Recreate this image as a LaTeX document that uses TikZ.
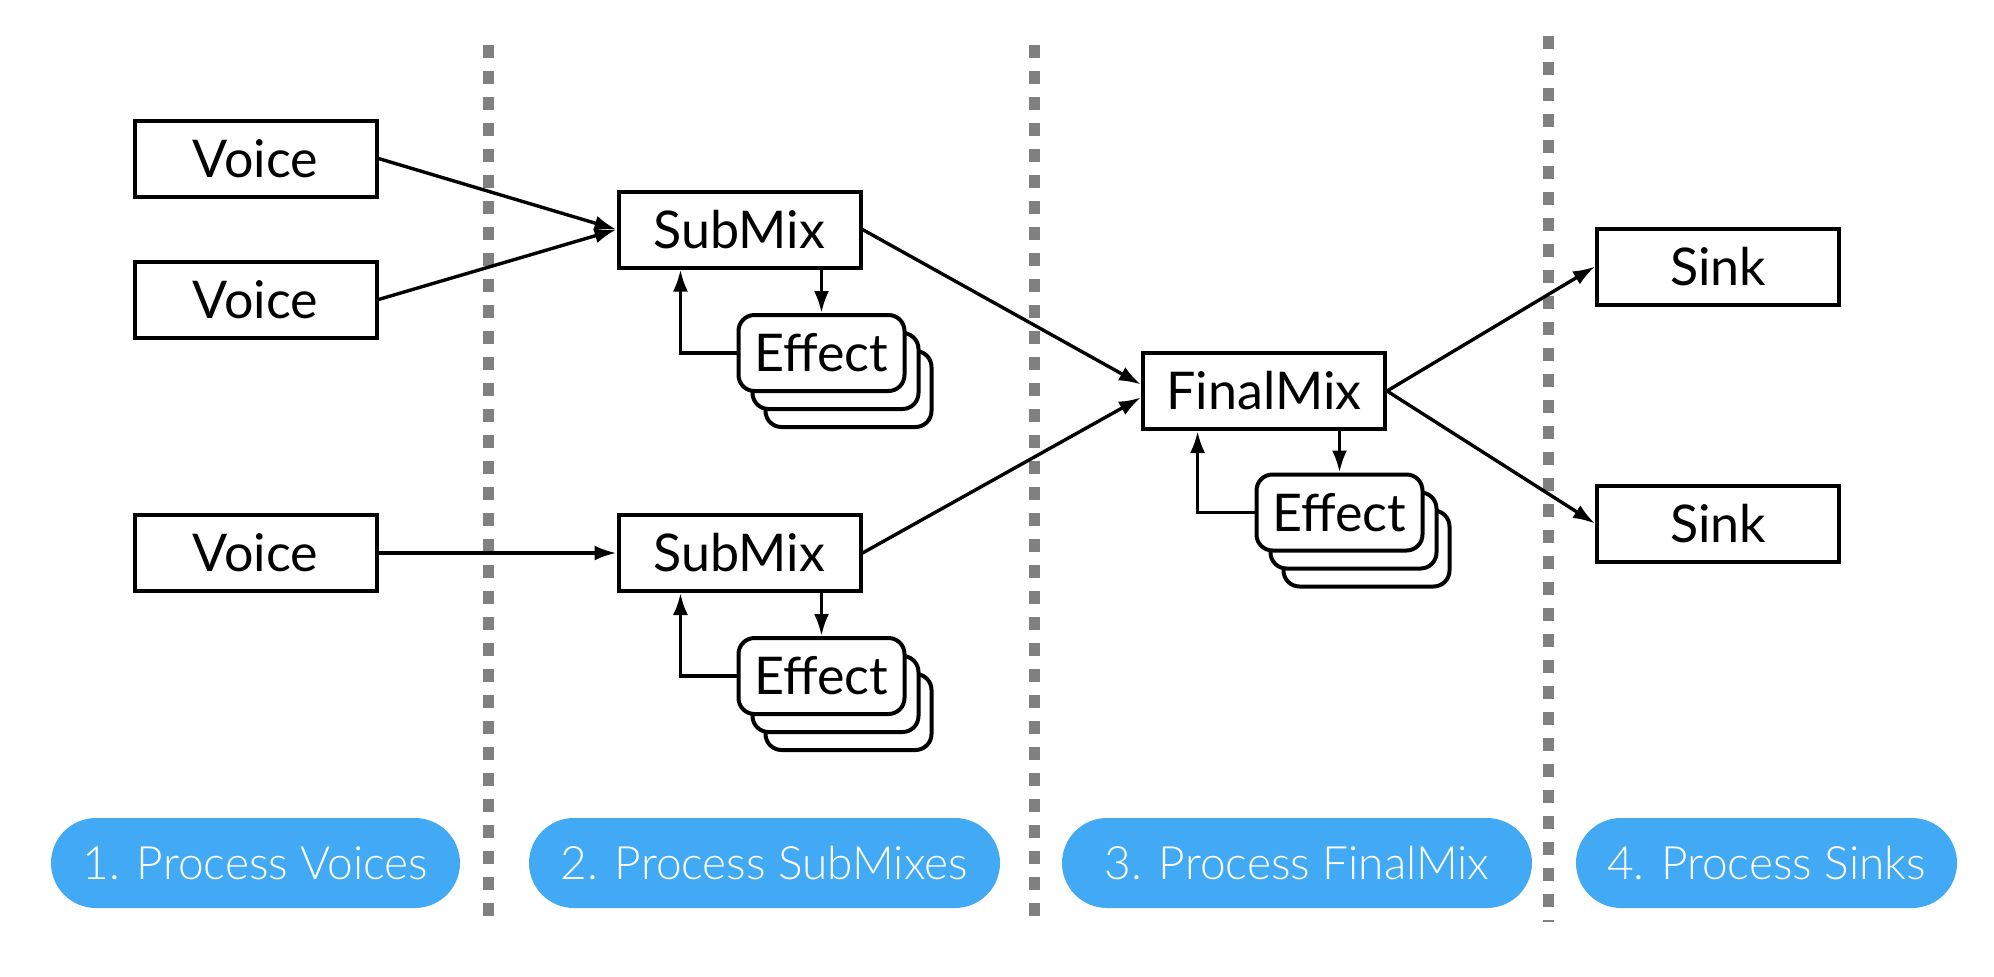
\documentclass[tikz,border=0pt]{standalone}
\usepackage{fontspec}
\setmainfont{Lato}
\newfontfamily\faselight{Lato Light}
\usepackage{xcolor}
\usepackage{tikz}
\usetikzlibrary{arrows.meta, shapes.misc, positioning, calc}

\begin{document}
\begin{tikzpicture}[x=0.5pt, y=-0.5pt,
  blockbox/.style={draw=black, line width=2pt, fill=white, minimum width=121pt, minimum height=38pt, inner sep=0pt, font=\fontsize{26}{30}\selectfont},
  fxbox/.style={draw=black, line width=2pt, fill=white, rounded corners=8pt, minimum width=83pt, minimum height=38pt, inner sep=0pt, font=\fontsize{26}{30}\selectfont},
  fluxo/.style={line width=1.7pt, -{Latex[length=11pt, width=7.5pt]}},
  divisa/.style={draw=gray, line width=5.5pt, dash pattern=on 6.5pt off 6.5pt},
  fase/.style={rounded rectangle, fill=faseazul, text=white, minimum height=45pt, inner sep=0pt, font=\faselight\fontsize{23}{27}\selectfont}]
% --- CORES E LIMITES ---
\definecolor{faseazul}{HTML}{42A9F5}
\useasboundingbox (0,0) rectangle (1994,976);

% LAYER 1: Divisorias pontilhadas
\draw[divisa] (488,45) -- (488,928);
\draw[divisa] (1034,45) -- (1034,928);
\draw[divisa] (1548,36) -- (1548,922);

% LAYER 2: Vozes
\node[blockbox] (voiceA) at (255.5,158.5) {Voice};
\node[blockbox] (voiceB) at (255.5,299.5) {Voice};
\node[blockbox] (voiceC) at (255.5,553) {Voice};

% LAYER 3: SubMixes e efeitos
\node[blockbox] (subA) at (739.5,229.5) {SubMix};
\node[blockbox] (subB) at (739.5,553) {SubMix};
\node[fxbox] (fxA3) at (848.5,389) {};
\node[fxbox] (fxA2) at (835.5,371) {};
\node[fxbox] (fxA) at (821.5,353) {Effect};
\node[fxbox] (fxB3) at (848.5,712) {};
\node[fxbox] (fxB2) at (835.5,694) {};
\node[fxbox] (fxB) at (821.5,676) {Effect};

% LAYER 4: FinalMix e efeitos
\node[blockbox] (final) at (1264,391) {FinalMix};
\node[fxbox] (fxC3) at (1366.5,548.5) {};
\node[fxbox] (fxC2) at (1353.5,530.5) {};
\node[fxbox] (fxC) at (1339.5,512.5) {Effect};

% LAYER 5: Sinks
\node[blockbox] (sinkA) at (1718,266.5) {Sink};
\node[blockbox] (sinkB) at (1718,523.5) {Sink};

% LAYER 6: Conexoes
\draw[fluxo] (voiceA.east) -- (subA.west);
\draw[fluxo] (voiceB.east) -- (subA.west);
\draw[fluxo] (voiceC.east) -- (subB.west);
\draw[fluxo] (subA.east) -- (final.177);
\draw[fluxo] (subB.east) -- (final.183);
\draw[fluxo] (final.east) -- (sinkA.west);
\draw[fluxo] (final.east) -- (sinkB.west);
\draw[fluxo] (fxA.north |- subA.south) -- (fxA.north);
\draw[fluxo] (fxA.west) -| ($(subA.south west)!0.26!(subA.south east)$);
\draw[fluxo] (fxB.north |- subB.south) -- (fxB.north);
\draw[fluxo] (fxB.west) -| ($(subB.south west)!0.26!(subB.south east)$);
\draw[fluxo] (fxC.north |- final.south) -- (fxC.north);
\draw[fluxo] (fxC.west) -| ($(final.south west)!0.23!(final.south east)$);

% LAYER 7: Etapas
\node[fase, minimum width=204.5pt] (faseA) at (255.5,863) {1. Process Voices};
\node[fase, minimum width=235.5pt] (faseB) at (764.5,863) {2. Process SubMixes};
\node[fase, minimum width=235pt] (faseC) at (1297,863) {3. Process FinalMix};
\node[fase, minimum width=190.5pt] (faseD) at (1766.5,863) {4. Process Sinks};
\end{tikzpicture}
\end{document}
